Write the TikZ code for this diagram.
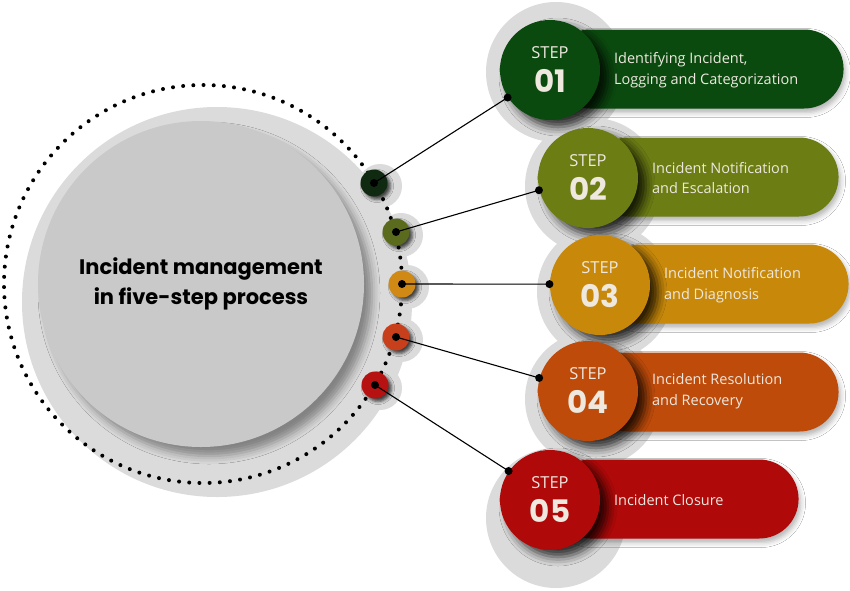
\documentclass[tikz,border=0pt]{standalone}
\usepackage{fontspec}
\setmainfont{Open Sans}
\newfontfamily\titlefont{Poppins}
\usetikzlibrary{positioning, shadows.blur}

\definecolor{halogray}{HTML}{DBDBDB}
\definecolor{hubgray}{HTML}{C9C9C9}
\definecolor{labelwhite}{HTML}{EEE8DF}
\definecolor{stepone}{HTML}{0B4A0F}
\definecolor{steptwo}{HTML}{6C7D14}
\definecolor{stepthree}{HTML}{C8890B}
\definecolor{stepfour}{HTML}{BE4B0A}
\definecolor{stepfive}{HTML}{AF0909}
\definecolor{knobone}{HTML}{0F2A10}
\definecolor{knobtwo}{HTML}{5B6B1D}
\definecolor{knobthree}{HTML}{D08915}
\definecolor{knobfour}{HTML}{C7401B}
\definecolor{knobfive}{HTML}{B71212}

\begin{document}
\begin{tikzpicture}[
            x = 1pt, y = -1pt, % pixel grid, y runs downwards
            node distance = 13pt, % gap between step circle and its text
            line width = 1.1pt
        ]

        \tikzstyle{halo}=[fill = halogray]
        \tikzstyle{dotring}=[
            line width = 4pt,
            line cap = round,
            dash pattern = on 0pt off 10.2pt
        ]
        \tikzstyle{hub}=[
            circle,
            fill = hubgray,
            minimum size = 326pt,
            inner sep = 0pt,
            align = center,
            font = \titlefont\bfseries\fontsize{21}{30}\selectfont,
            blur shadow = {shadow xshift = 8pt, shadow yshift = -9pt,
                shadow blur radius = 8pt, shadow opacity = 40}
        ]
        \tikzstyle{knob}=[
            circle,
            minimum size = 27pt,
            inner sep = 0pt,
            blur shadow = {shadow xshift = 3pt, shadow yshift = -3pt,
                shadow blur radius = 3pt, shadow opacity = 70}
        ]
        \tikzstyle{pin}=[circle, fill = black, minimum size = 8pt, inner sep = 0pt]
        \tikzstyle{pill}=[
            rectangle,
            anchor = west,
            minimum height = 79pt,
            rounded corners = 39.5pt,
            blur shadow = {shadow xshift = 2pt, shadow yshift = -4pt,
                shadow blur radius = 5pt, shadow opacity = 30}
        ]
        \tikzstyle{stepcircle}=[
            circle,
            minimum size = 100pt,
            inner sep = 0pt,
            blur shadow = {shadow xshift = 8pt, shadow yshift = -7pt,
                shadow blur radius = 9pt, shadow opacity = 80}
        ]
        \tikzstyle{stepword}=[text = labelwhite, inner sep = 0pt, font = \fontsize{16.5}{17}\selectfont]
        \tikzstyle{stepnum}=[text = labelwhite, inner sep = 0pt, font = \titlefont\bfseries\fontsize{31}{31}\selectfont]
        \tikzstyle{pilltext}=[text = labelwhite, align = left, inner sep = 0pt, font = \fontsize{14.5}{20.5}\selectfont]

        \useasboundingbox[fill = white] (0,0) rectangle (850,590);

        % grey backdrop
        \fill[halo] (217,302) circle[radius = 195];
        \fill[halo] (380,186) circle[radius = 22];
        \fill[halo] (401,235) circle[radius = 22];
        \fill[halo] (407,287) circle[radius = 22];
        \fill[halo] (401,340) circle[radius = 22];
        \fill[halo] (380,388) circle[radius = 22];
        \fill[halo] (556,72) circle[radius = 70];
        \fill[halo] (593,186) circle[radius = 68];
        \fill[halo] (605,292) circle[radius = 68];
        \fill[halo] (593,399) circle[radius = 68];
        \fill[halo] (556,518) circle[radius = 70];

        \draw[dotring] (203,284) circle[radius = 199];

        \node[hub] (hub) at (201,284) {Incident management\\in five-step process};

        \node[knob, fill = knobone] (k1) at (374,183) {};
        \node[knob, fill = knobtwo] (k2) at (396,232) {};
        \node[knob, fill = knobthree] (k3) at (402,284) {};
        \node[knob, fill = knobfour] (k4) at (396,337) {};
        \node[knob, fill = knobfive] (k5) at (375,385) {};

        % step 01
        \node[pill, fill = stepone, minimum width = 293pt] (b1) at (550,69) {};
        \node[stepcircle, fill = stepone] (s1) at (550,70) {};
        \node[stepword] (w1) at ([yshift = 17pt]s1.center) {STEP};
        \node[stepnum] (n1) at ([yshift = -11pt]s1.center) {01};
        \node[pilltext, right = of s1] (t1) {Identifying Incident,\\Logging and Categorization};

        % step 02
        \node[pill, fill = steptwo, minimum width = 250pt] (b2) at (588,177) {};
        \node[stepcircle, fill = steptwo] (s2) at (588,178) {};
        \node[stepword] (w2) at ([yshift = 17pt]s2.center) {STEP};
        \node[stepnum] (n2) at ([yshift = -11pt]s2.center) {02};
        \node[pilltext, right = of s2] (t2) {Incident Notification\\and Escalation};

        % step 03
        \node[pill, fill = stepthree, minimum width = 248pt] (b3) at (600,284) {};
        \node[stepcircle, fill = stepthree] (s3) at (600,285) {};
        \node[stepword] (w3) at ([yshift = 17pt]s3.center) {STEP};
        \node[stepnum] (n3) at ([yshift = -11pt]s3.center) {03};
        \node[pilltext, right = of s3] (t3) {Incident Notification\\and Diagnosis};

        % step 04
        \node[pill, fill = stepfour, minimum width = 250pt] (b4) at (588,392) {};
        \node[stepcircle, fill = stepfour] (s4) at (588,391) {};
        \node[stepword] (w4) at ([yshift = 17pt]s4.center) {STEP};
        \node[stepnum] (n4) at ([yshift = -11pt]s4.center) {04};
        \node[pilltext, right = of s4] (t4) {Incident Resolution\\and Recovery};

        % step 05
        \node[pill, fill = stepfive, minimum width = 248pt] (b5) at (550,499) {};
        \node[stepcircle, fill = stepfive] (s5) at (550,500) {};
        \node[stepword] (w5) at ([yshift = 17pt]s5.center) {STEP};
        \node[stepnum] (n5) at ([yshift = -11pt]s5.center) {05};
        \node[pilltext, right = of s5] (t5) {Incident Closure};

        \draw (k1.center) -- (s1.213);
        \draw (k2.center) -- (s2.194);
        \draw (k3.center) -- (s3.179);
        \draw (k4.center) -- (s4.165);
        \draw (k5.center) -- (s5.145);

        \node[pin] (p1) at (k1) {};
        \node[pin] (p2) at (k2) {};
        \node[pin] (p3) at (k3) {};
        \node[pin] (p4) at (k4) {};
        \node[pin] (p5) at (k5) {};
        \node[pin] (e1) at (s1.213) {};
        \node[pin] (e2) at (s2.194) {};
        \node[pin] (e3) at (s3.179) {};
        \node[pin] (e4) at (s4.165) {};
        \node[pin] (e5) at (s5.145) {};

  \end{tikzpicture}
\end{document}
